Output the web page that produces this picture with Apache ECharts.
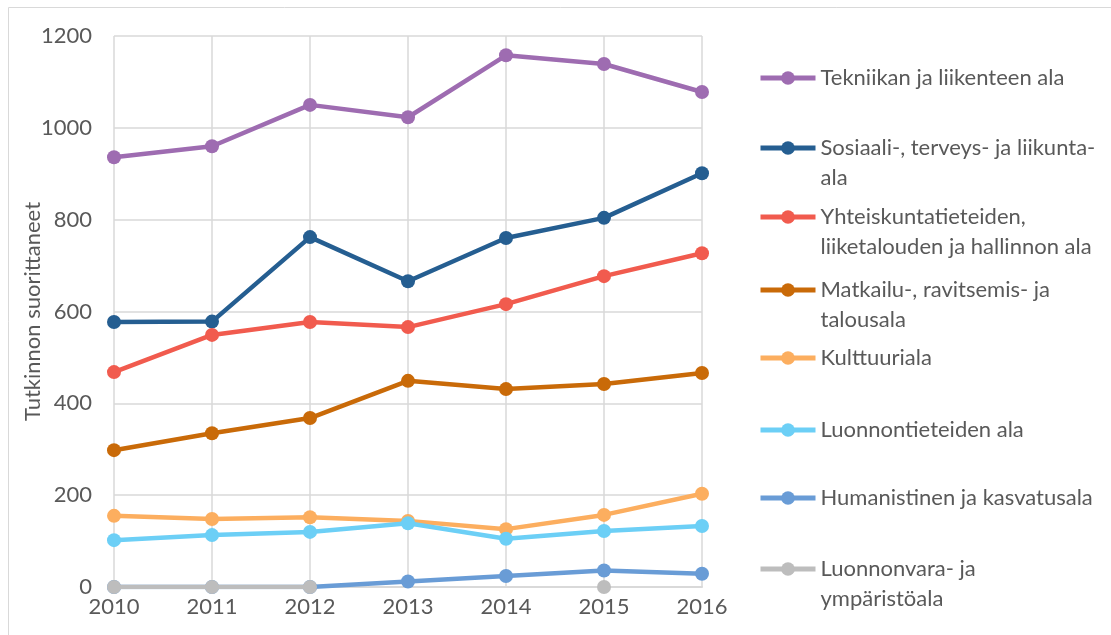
<!DOCTYPE html>
<html>
<head>
<meta charset="utf-8">
<script src="https://cdn.jsdelivr.net/npm/echarts@6/dist/echarts.min.js"></script>
<style>
  html, body { margin: 0; padding: 0; background: #fff; }
  #chart { width: 1111px; height: 635px; }
</style>
</head>
<body>
<div id="chart"></div>
<script>
const years = ['2010', '2011', '2012', '2013', '2014', '2015', '2016'];

const tekniikka = [936, 960, 1050, 1023, 1158, 1139, 1078];
const sosiaali = [577, 578, 762, 666, 760, 804, 901];
const yhteiskunta = [468, 549, 577, 566, 616, 677, 727];
const matkailu = [298, 335, 368, 449, 431, 442, 466];
const kulttuuri = [155, 148, 152, 144, 126, 157, 203];
const luonnontiede = [102, 113, 120, 139, 105, 122, 133];
const humanistinen = [0, 0, 0, 12, 24, 36, 29];
const luonnonvara = [0, 0, 0, null, null, 0, null];

const seriesNames = [
  'Tekniikan ja liikenteen ala',
  'Sosiaali-, terveys- ja liikunta-ala',
  'Yhteiskuntatieteiden, liiketalouden ja hallinnon ala',
  'Matkailu-, ravitsemis- ja talousala',
  'Kulttuuriala',
  'Luonnontieteiden ala',
  'Humanistinen ja kasvatusala',
  'Luonnonvara- ja ympäristöala'
];
// legend text lines as wrapped in the picture
const legendLines = [
  ['Tekniikan ja liikenteen ala'],
  ['Sosiaali-, terveys- ja liikunta-', 'ala'],
  ['Yhteiskuntatieteiden,', 'liiketalouden ja hallinnon ala'],
  ['Matkailu-, ravitsemis- ja', 'talousala'],
  ['Kulttuuriala'],
  ['Luonnontieteiden ala'],
  ['Humanistinen ja kasvatusala'],
  ['Luonnonvara- ja', 'ympäristöala']
];
const seriesData = [tekniikka, sosiaali, yhteiskunta, matkailu, kulttuuri, luonnontiede, humanistinen, luonnonvara];
const colors = ['#9E6CB1', '#255E91', '#F15B4E', '#C96A08', '#FCAE5F', '#6CCFF6', '#699CD6', '#BDBDBD'];

// icon centre of each legend entry
const legendY = [78, 148, 217, 290, 358, 430, 498, 569];

const FONT = 'Lato';
const TEXT = '#595959';
const GRID = '#D9D9D9';
const FS = 22;

const chart = echarts.init(document.getElementById('chart'));

const legends = seriesNames.map((name, i) => {
  const twoLines = legendLines[i].length > 1;
  // a blank first line keeps the icon level with the first text line
  const label = twoLines ? '\n' + legendLines[i].join('\n') : legendLines[i][0];
  return {
    data: [name],
    left: 758,
    top: legendY[i] - (twoLines ? 45 : 15),
    orient: 'vertical',
    padding: 0,
    itemWidth: 55,
    itemHeight: 17,
    selectedMode: false,
    lineStyle: { width: 5 },
    formatter: () => label,
    textStyle: {
      fontFamily: FONT,
      fontSize: FS,
      color: TEXT,
      lineHeight: 30
    }
  };
});

const series = seriesNames.map((name, i) => ({
  name: name,
  type: 'line',
  data: seriesData[i],
  symbol: 'circle',
  symbolSize: 14,
  connectNulls: false,
  lineStyle: { width: 4.5, color: colors[i] },
  itemStyle: { color: colors[i] },
  emphasis: { disabled: true },
  z: 2 + i
}));

chart.setOption({
  animation: false,
  graphic: [{
    type: 'rect',
    shape: { x: 8.5, y: 7.5, width: 1110, height: 640 },
    style: { fill: 'none', stroke: GRID, lineWidth: 1 },
    silent: true
  }],
  legend: legends,
  grid: { left: 114, right: 409, top: 36, bottom: 48 },
  xAxis: {
    type: 'category',
    data: years,
    boundaryGap: false,
    axisLine: { lineStyle: { color: GRID, width: 2 } },
    axisTick: { show: false },
    splitLine: { show: true, lineStyle: { color: GRID, width: 1.5 } },
    axisLabel: { fontFamily: FONT, fontSize: FS, color: TEXT, margin: 9 }
  },
  yAxis: {
    type: 'value',
    min: 0,
    max: 1200,
    interval: 200,
    name: 'Tutkinnon suorittaneet',
    nameLocation: 'middle',
    nameGap: 70,
    nameMoveOverlap: false,
    nameTextStyle: { fontFamily: FONT, fontSize: FS, color: TEXT },
    axisLine: { show: false },
    axisTick: { show: false },
    splitLine: { lineStyle: { color: GRID, width: 1.5 } },
    axisLabel: {
      fontFamily: FONT, fontSize: FS, color: TEXT, margin: 22,
      formatter: (v) => String(v)
    }
  },
  series: series
});
</script>
</body>
</html>
